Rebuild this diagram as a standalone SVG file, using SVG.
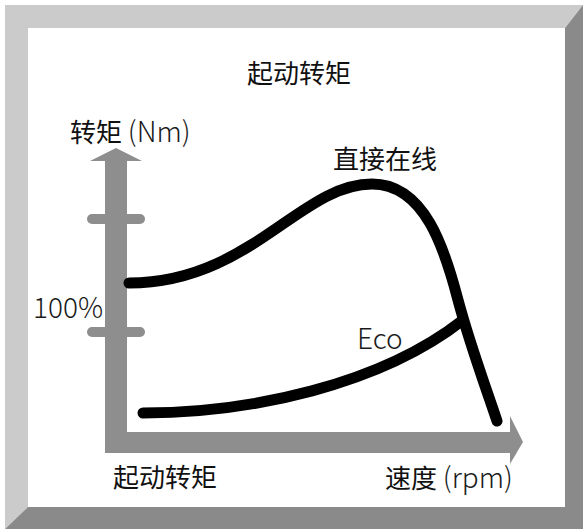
<svg xmlns="http://www.w3.org/2000/svg" width="583" height="529" viewBox="0 0 583 529">
<style>
.t{font-family:"Noto Sans CJK SC","Noto Sans",sans-serif;font-size:26px;fill:#111}
.l{font-family:"Noto Sans CJK SC","Noto Sans",sans-serif;font-weight:300;font-size:28px;fill:#1a1a1a}
.ax{fill:#8e8e8e}
.c{fill:none;stroke:#000;stroke-width:11;stroke-linecap:round}
</style>
<rect width="583" height="529" fill="#fff"/>
<g id="frame">
<polygon points="5,5 583,5 565,28 28,28 28,507 5,529" fill="#cbcbcb"/>
<polygon points="583,5 583,529 5,529 28,507 565,507 565,28" fill="#8a8a8a"/>
</g>
<g id="axes">
<rect class="ax" x="105" y="158" width="22" height="295"/>
<polygon class="ax" points="90,161 116,148 142,161"/>
<rect class="ax" x="105" y="432" width="406" height="21"/>
<polygon class="ax" points="510,416 523,442 510,464"/>
<rect class="ax" x="87" y="214" width="58" height="10" rx="5"/>
<rect class="ax" x="87" y="327" width="58" height="10" rx="5"/>
</g>
<g id="connectors">
<path id="direct" class="c" d="M129,283 C250,283 300,184 372,184 C425,184 445,250 458,300 C470,345 485,385 497,421"/>
<path id="eco" class="c" d="M143,413 C250,413 380,385 463,320"/>
</g>
<g id="labels">
<text class="t" x="299" y="83" text-anchor="middle">起动转矩</text>
<text class="t" x="70" y="142">转矩 <tspan class="l">(Nm)</tspan></text>
<text class="t" x="333" y="169">直接在线</text>
<text class="l" x="33" y="318">100%</text>
<text class="l" x="357" y="349">Eco</text>
<text class="t" x="113" y="487">起动转矩</text>
<text class="t" x="385" y="488">速度 <tspan class="l">(rpm)</tspan></text>
</g>
</svg>
